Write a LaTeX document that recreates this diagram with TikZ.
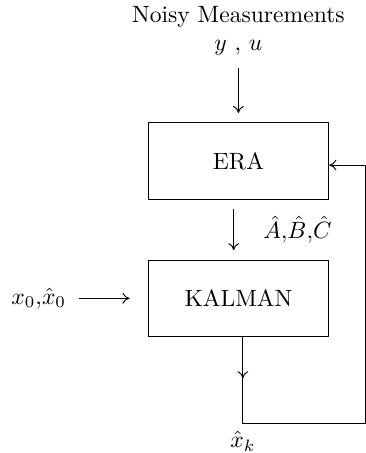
\documentclass[tikz,border=0pt]{standalone}
\usepackage{amsmath,amssymb}
\usetikzlibrary{arrows.meta,positioning}
\begin{document}
\begin{tikzpicture}[node distance=25.4pt,every node/.style={align=center},>={To[length=3pt,width=4.6pt]},
    blk/.style={draw,minimum width=76.7pt,minimum height=32.4pt}]
        \useasboundingbox (-101.1pt,-123.8pt) rectangle (54.1pt,68.3pt);
        \node[blk] (era) {ERA};
        \node[blk,below=of era] (kalman) {KALMAN};
        \node[above=25pt of era] (meas) {Noisy Measurements\\$y\ {,}\ u$};
        \node[left=31pt of kalman] (init) {$x_0{,}\hat{x}_0$};
        \coordinate (xk) at ([xshift=1.9pt,yshift=-36.5pt]kalman.south);
        \coordinate (fbtop) at ([xshift=15.2pt,yshift=-1.7pt]era.east);
        \node[below=0pt of xk] (xhat) {$\hat{x}_k$};
        \draw[->,shorten <=2pt,shorten >=4pt] (meas) -- (era);
        \draw[->,shorten <=4pt,shorten >=4pt] ([xshift=-2pt]era.south) -- ([xshift=-2pt]kalman.north)
            node[midway,right=9pt] (abc) {$\hat{A}{,}\hat{B}{,}\hat{C}$};
        \draw[->,shorten <=2pt,shorten >=7.6pt] (init) -- (kalman);
        % feedback of the estimate into ERA
        \draw[->] ([xshift=1.9pt]kalman.south) -- ++(0,-17.5pt);
        \draw ([xshift=1.9pt]kalman.south) -- (xk) -- (fbtop |- xk) -- (fbtop);
        \draw[->] (fbtop) -- ([yshift=-1.7pt]era.east);
      \end{tikzpicture}
\end{document}
